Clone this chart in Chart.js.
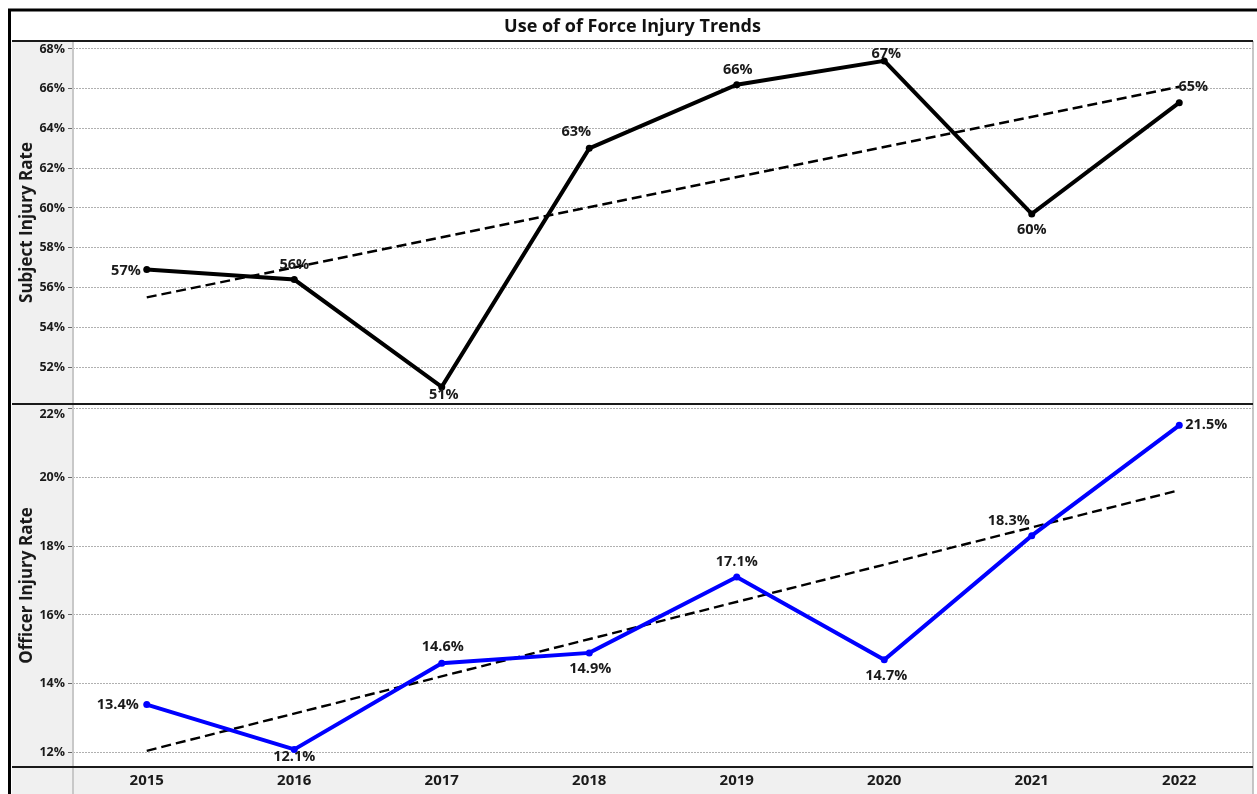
<!DOCTYPE html>
<html lang="en">
<head>
<meta charset="UTF-8"/>
<title>Use of of Force Injury Trends</title>
<script src="https://cdn.jsdelivr.net/npm/chart.js@4.4.0/dist/chart.umd.min.js"></script>
<style>
  html, body { margin: 0; padding: 0; background: #fff; }
  #wrap { position: relative; width: 1257px; height: 794px; }
</style>
</head>
<body>
<div id="wrap"><canvas id="chart" width="1257" height="794"></canvas></div>
<script>
// values
const years = ['2015', '2016', '2017', '2018', '2019', '2020', '2021', '2022'];
const subjectRate = [56.9, 56.4, 51.0, 63.0, 66.2, 67.4, 59.7, 65.3];
const subjectTrend = [55.5, null, null, null, null, null, null, 66.1];
const officerRate = [13.4, 12.1, 14.6, 14.9, 17.1, 14.7, 18.3, 21.5];
const officerTrend = [12.06, null, null, null, null, null, null, 19.62];

// where each value label sits relative to its point: [dx, dy, align]
const subjectLabelPos = [[-6, 1, 'right'], [0, -15, 'center'], [2, 8, 'center'], [-13, -16, 'center'],
                         [1, -15, 'center'], [2, -7, 'center'], [0, 16, 'center'], [14, -16, 'center']];
const officerLabelPos = [[-8, 0, 'right'], [0, 7, 'center'], [1, -16, 'center'], [1, 16, 'center'],
                         [0, -15, 'center'], [2, 16, 'center'], [-23, -15, 'center'], [6, 0, 'left']];

const FONT = '"Open Sans", "Noto Sans", sans-serif';

const framePlugin = {
  id: 'frame',
  beforeDraw(chart) {
    const ctx = chart.ctx;
    const a = chart.chartArea;
    ctx.save();
    ctx.fillStyle = '#fff';
    ctx.fillRect(0, 0, chart.width, chart.height);
    ctx.fillStyle = '#f0f0f0';
    ctx.fillRect(12, a.top, a.left - 12, chart.height - a.top);
    ctx.fillRect(12, a.bottom, a.right - 12, chart.height - a.bottom);
    ctx.restore();
    // the top tick label of the lower panel is pushed down inside its panel
    const items = chart.scales.yOfficer.getLabelItems();
    if (items.length && !items.shifted) {
      items[items.length - 1].options.translation[1] += 6;
      items.shifted = true;
    }
  },
  afterDraw(chart) {
    const ctx = chart.ctx;
    const a = chart.chartArea;
    const mid = chart.scales.ySubject.bottom;
    ctx.save();
    // grey separators
    ctx.strokeStyle = '#c8c8c8';
    ctx.lineWidth = 2;
    ctx.beginPath();
    ctx.moveTo(a.left, a.top); ctx.lineTo(a.left, chart.height);
    ctx.stroke();
    ctx.strokeStyle = '#b4b4b4';
    ctx.lineWidth = 1.5;
    ctx.beginPath();
    ctx.moveTo(a.right, a.top); ctx.lineTo(a.right, chart.height);
    ctx.stroke();
    // dark horizontal rules
    ctx.strokeStyle = '#1a1a1a';
    ctx.lineWidth = 2;
    [a.top, mid, a.bottom].forEach(y => {
      ctx.beginPath();
      ctx.moveTo(12, y); ctx.lineTo(a.right, y);
      ctx.stroke();
    });
    // outer frame
    ctx.strokeStyle = '#000';
    ctx.lineWidth = 3;
    ctx.beginPath();
    ctx.moveTo(9.5, chart.height); ctx.lineTo(9.5, 10); ctx.lineTo(chart.width, 10);
    ctx.stroke();
    // title
    ctx.fillStyle = '#111';
    ctx.font = 'bold 18px ' + FONT;
    ctx.textAlign = 'center';
    ctx.textBaseline = 'middle';
    ctx.fillText('Use of of Force Injury Trends', (12 + a.right) / 2, 27);
    ctx.restore();
  }
};

const valueLabels = {
  id: 'valueLabels',
  afterDatasetsDraw(chart) {
    const ctx = chart.ctx;
    ctx.save();
    ctx.font = 'bold 14.5px ' + FONT;
    ctx.fillStyle = '#1a1a1a';
    ctx.textBaseline = 'middle';
    chart.data.datasets.forEach((ds, di) => {
      if (!ds.labelPos) return;
      const meta = chart.getDatasetMeta(di);
      meta.data.forEach((pt, i) => {
        const p = ds.labelPos[i];
        ctx.textAlign = p[2];
        ctx.fillText(ds.labelFmt(ds.data[i]), pt.x + p[0], pt.y + p[1]);
      });
    });
    ctx.restore();
  }
};

const yTicks = {
  color: '#1a1a1a',
  font: { family: FONT, size: 12.5, weight: 'bold' },
  padding: 3,
  stepSize: 2,
  includeBounds: false,
  callback: v => v + '%'
};
const yGrid = { color: '#b0b0b0', lineWidth: 1, tickLength: 5, tickColor: '#666', tickBorderDash: [] };
const yTitleFont = { family: FONT, size: 17, weight: 'bold' };

new Chart(document.getElementById('chart'), {
  type: 'line',
  data: {
    labels: years,
    datasets: [
      {
        data: subjectRate, yAxisID: 'ySubject',
        borderColor: '#000', backgroundColor: '#000', borderWidth: 4,
        pointRadius: 3.5, pointBackgroundColor: '#000', pointBorderWidth: 0, tension: 0,
        labelPos: subjectLabelPos, labelFmt: v => Math.round(v) + '%'
      },
      {
        data: subjectTrend, yAxisID: 'ySubject', spanGaps: true,
        borderColor: '#000', borderWidth: 2.4, borderDash: [10, 5], pointRadius: 0
      },
      {
        data: officerRate, yAxisID: 'yOfficer',
        borderColor: '#0000ff', backgroundColor: '#0000ff', borderWidth: 4,
        pointRadius: 3.5, pointBackgroundColor: '#0000ff', pointBorderWidth: 0, tension: 0,
        labelPos: officerLabelPos, labelFmt: v => v.toFixed(1) + '%'
      },
      {
        data: officerTrend, yAxisID: 'yOfficer', spanGaps: true,
        borderColor: '#000', borderWidth: 2.4, borderDash: [10, 5], pointRadius: 0
      }
    ]
  },
  options: {
    responsive: false,
    animation: false,
    layout: { padding: { left: 12, top: 41, right: 3, bottom: 0 } },
    plugins: { legend: { display: false }, tooltip: { enabled: false } },
    scales: {
      x: {
        offset: true,
        grid: { display: false, drawTicks: false, tickLength: 0 },
        border: { display: false },
        ticks: { color: '#1a1a1a', font: { family: FONT, size: 15, weight: 'bold' }, padding: 5 },
        afterFit: s => { s.height = 27; }
      },
      ySubject: {
        position: 'left', stack: 'rates', stackWeight: 1, weight: 2,
        min: 50.14, max: 68.4,
        ticks: yTicks, grid: yGrid,
        border: { display: false, dash: [2, 1] },
        title: { display: true, text: 'Subject Injury Rate', color: '#1a1a1a', font: yTitleFont, padding: { top: 5, bottom: 0 } },
        afterFit: s => { s.width = 61; }
      },
      yOfficer: {
        position: 'left', stack: 'rates', stackWeight: 1, weight: 1,
        min: 11.59, max: 22.12,
        ticks: yTicks, grid: yGrid,
        border: { display: false, dash: [2, 1] },
        title: { display: true, text: 'Officer Injury Rate', color: '#1a1a1a', font: yTitleFont, padding: { top: 5, bottom: 0 } },
        afterFit: s => { s.width = 61; }
      }
    }
  },
  plugins: [framePlugin, valueLabels]
});
</script>
</body>
</html>
